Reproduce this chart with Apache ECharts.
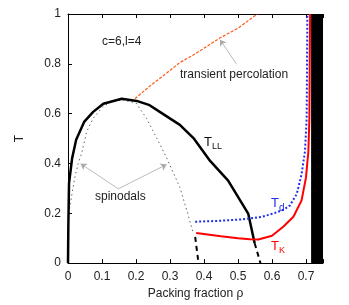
<!DOCTYPE html>
<html><head><meta charset="utf-8">
<script src="https://cdn.jsdelivr.net/npm/echarts@6/dist/echarts.min.js"></script>
<style>html,body{margin:0;padding:0;background:#fff}#c{width:349px;height:305px}</style>
</head><body><div id="c"></div>
<script>
// ---- data ----
var xTicks = [0, 0.1, 0.2, 0.3, 0.4, 0.5, 0.6, 0.7];
var yTicks = [0, 0.2, 0.4, 0.6, 0.8, 1];

var tllRho = [0, 0.001, 0.003, 0.012, 0.024, 0.048, 0.074, 0.104, 0.158, 0.202, 0.24, 0.27, 0.329, 0.369, 0.418, 0.471, 0.53, 0.549];
var tllT   = [0, 0.15, 0.32, 0.42, 0.495, 0.568, 0.607, 0.64, 0.66, 0.651, 0.634, 0.607, 0.555, 0.502, 0.41, 0.331, 0.199, 0.08];
var tllDashRho = [0.549, 0.566];
var tllDashT   = [0.08, 0];

var spinRho = [0.002, 0.012, 0.02, 0.03, 0.04, 0.055, 0.074, 0.104, 0.13, 0.158, 0.2, 0.231, 0.261, 0.29, 0.329, 0.352, 0.369];
var spinT   = [0.2, 0.28, 0.344, 0.4, 0.44, 0.528, 0.581, 0.63, 0.648, 0.655, 0.643, 0.581, 0.502, 0.423, 0.304, 0.2, 0.117];
var spinDashRho = [0.374, 0.384];
var spinDashT   = [0.105, 0];

var percRho = [0.197, 0.24, 0.28, 0.329, 0.38, 0.447, 0.5, 0.557];
var percT   = [0.66, 0.71, 0.752, 0.805, 0.845, 0.904, 0.943, 1.0];

var tdRho = [0.374, 0.45, 0.506, 0.535, 0.57, 0.604, 0.635, 0.653, 0.673, 0.687, 0.697, 0.702, 0.703, 0.704];
var tdT   = [0.166, 0.17, 0.175, 0.179, 0.186, 0.199, 0.215, 0.232, 0.278, 0.357, 0.449, 0.58, 0.8, 1.0];

var tkRho = [0.377, 0.45, 0.5, 0.535, 0.56, 0.6, 0.633, 0.663, 0.687, 0.7, 0.707, 0.71, 0.711, 0.712];
var tkT   = [0.121, 0.108, 0.1, 0.096, 0.095, 0.11, 0.146, 0.186, 0.252, 0.344, 0.449, 0.58, 0.8, 1.0];

var bandRho = [0.715, 0.75];

function pairs(a, b) { return a.map(function (v, i) { return [v, b[i]]; }); }

var FONT = 'Liberation Sans, Arial, sans-serif';
var chart = echarts.init(document.getElementById('c'), null, {renderer: 'canvas'});

var arrowStyle = {color: '#aaa', width: 0.8, type: 'solid'};

chart.setOption({
  animation: false,
  grid: {left: 68, right: 26, top: 14, bottom: 38},
  xAxis: [{
    type: 'value', min: 0, max: 0.75, interval: 0.1,
    name: 'Packing fraction ρ', nameLocation: 'middle', nameGap: 22,
    nameTextStyle: {fontFamily: FONT, fontSize: 12, color: '#222'},
    axisLine: {lineStyle: {color: '#000', width: 1}},
    axisTick: {inside: true, length: 4, lineStyle: {color: '#000'}},
    axisLabel: {fontFamily: FONT, fontSize: 12, color: '#222', margin: 8,
      formatter: function (v) { return xTicks.indexOf(Math.round(v * 10) / 10) >= 0 && v < 0.74 ? String(Math.round(v * 10) / 10) : ''; }},
    splitLine: {show: false}
  }, {
    type: 'value', position: 'top', min: 0, max: 0.75, interval: 0.1,
    axisLine: {lineStyle: {color: '#000', width: 1}},
    axisTick: {inside: true, length: 4, lineStyle: {color: '#000'}},
    axisLabel: {show: false}, splitLine: {show: false}
  }],
  yAxis: [{
    type: 'value', min: 0, max: 1, interval: 0.2,
    name: 'T', nameLocation: 'middle', nameGap: 42,
    nameTextStyle: {fontFamily: FONT, fontSize: 12, color: '#222'},
    axisLine: {show: true, lineStyle: {color: '#000', width: 1}},
    axisTick: {show: true, inside: true, length: 4, lineStyle: {color: '#000'}},
    axisLabel: {fontFamily: FONT, fontSize: 12, color: '#222', margin: 7,
      formatter: function (v) { return String(Math.round(v * 10) / 10); }},
    splitLine: {show: false}
  }],
  series: [
    {type: 'line', name: 'band', data: [], silent: true,
     markArea: {silent: true, itemStyle: {color: '#000'},
       data: [[{xAxis: bandRho[0], yAxis: 0}, {xAxis: bandRho[1], yAxis: 1}]]}},
    {type: 'line', name: 'spinodals', data: pairs(spinRho, spinT), symbol: 'none',
     lineStyle: {color: '#666', width: 1, type: [1.5, 3]},
     markLine: {silent: true, symbol: ['none', 'arrow'], symbolSize: 6,
       lineStyle: arrowStyle, label: {show: false},
       data: [[{coord: [0.148, 0.298]}, {coord: [0.037, 0.399]}],
              [{coord: [0.148, 0.298]}, {coord: [0.29, 0.396]}]]}},
    {type: 'line', name: 'spinDash', data: pairs(spinDashRho, spinDashT), symbol: 'none',
     lineStyle: {color: '#000', width: 2, type: [5, 4]}},
    {type: 'line', name: 'perc', data: pairs(percRho, percT), symbol: 'none',
     lineStyle: {color: '#ff5a1e', width: 1.2, type: [3, 1.5]},
     markLine: {silent: true, symbol: ['none', 'arrow'], symbolSize: 6,
       lineStyle: arrowStyle, label: {show: false},
       data: [[{coord: [0.496, 0.798]}, {coord: [0.447, 0.897]}]]}},
    {type: 'line', name: 'TLL', data: pairs(tllRho, tllT), symbol: 'none',
     lineStyle: {color: '#000', width: 2.5}},
    {type: 'line', name: 'TLLdash', data: pairs(tllDashRho, tllDashT), symbol: 'none',
     lineStyle: {color: '#000', width: 2, type: [5, 4]}},
    {type: 'line', name: 'Td', data: pairs(tdRho, tdT), symbol: 'none',
     lineStyle: {color: '#1f2ff0', width: 2, type: [2, 2]}},
    {type: 'line', name: 'TK', data: pairs(tkRho, tkT), symbol: 'none',
     lineStyle: {color: '#ff0000', width: 2}}
  ],
  graphic: [
    {type: 'text', x: 102, y: 42, style: {text: 'c=6,l=4', fontFamily: FONT, fontSize: 12, fill: '#222', verticalAlign: 'middle'}},
    {type: 'text', x: 180, y: 75, style: {text: 'transient percolation', fontFamily: FONT, fontSize: 12, fill: '#222', verticalAlign: 'middle'}},
    {type: 'text', x: 95, y: 197, style: {text: 'spinodals', fontFamily: FONT, fontSize: 12, fill: '#222', verticalAlign: 'middle'}},
    {type: 'text', x: 204, y: 142, style: {text: 'T', fontFamily: FONT, fontSize: 13, fill: '#111', verticalAlign: 'middle'}},
    {type: 'text', x: 212, y: 147, style: {text: 'LL', fontFamily: FONT, fontSize: 9, fill: '#111', verticalAlign: 'middle'}},
    {type: 'text', x: 271, y: 203, style: {text: 'T', fontFamily: FONT, fontSize: 13, fill: '#1f2ff0', verticalAlign: 'middle'}},
    {type: 'text', x: 279, y: 208, style: {text: 'd', fontFamily: FONT, fontSize: 10, fill: '#1f2ff0', verticalAlign: 'middle'}},
    {type: 'text', x: 271, y: 246, style: {text: 'T', fontFamily: FONT, fontSize: 13, fill: '#ff0000', verticalAlign: 'middle'}},
    {type: 'text', x: 279, y: 251, style: {text: 'K', fontFamily: FONT, fontSize: 9, fill: '#ff0000', verticalAlign: 'middle'}}
  ]
});
</script></body></html>
